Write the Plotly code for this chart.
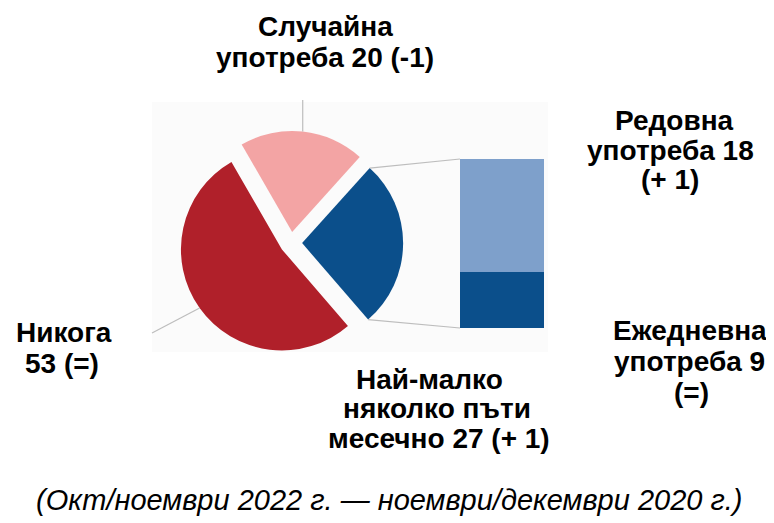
import math
import plotly.graph_objects as go

W, H = 774, 523          # browser window
OX, OY = 8, 8            # default page margin of the html body
FW, FH = W - OX, H - OY  # figure size

# ---------------- data ----------------
pie_labels = ["Случайна употреба", "Най-малко няколко пъти месечно", "Никога"]
pie_values = [20, 27, 53]
pie_colors = ["#F3A4A4", "#0B4F8B", "#B0202A"]

bar_labels = ["Ежедневна употреба", "Редовна употреба"]
bar_values = [9, 18]
bar_colors = ["#0B4F8B", "#7EA0CB"]

label_random = ["Случайна", "употреба 20 (-1)"]
label_regular = ["Редовна", "употреба 18", "(+ 1)"]
label_daily = ["Ежедневна", "употреба 9", "(=)"]
label_monthly = ["Най-малко", "няколко пъти", "месечно 27 (+ 1)"]
label_never = ["Никога", "53 (=)"]
footnote = "(Окт/ноември 2022 г. — ноември/декември 2020 г.)"

# ---------------- geometry (page pixels) ----------------
PIE_CX, PIE_CY, PIE_R = 291, 243, 101
PULL = 0.11
ROT = -30

BAR_X0, BAR_X1, BAR_Y0, BAR_Y1 = 460, 544, 159, 328

FONT = "Liberation Sans, Arial, Helvetica, sans-serif"


def px(x):
    return (x - OX) / FW


def py(y):
    return (H - y) / FH


half = PIE_R * (1 + PULL)
pie_dom_x = [px(PIE_CX - half), px(PIE_CX + half)]
pie_dom_y = [py(PIE_CY + half), py(PIE_CY - half)]
bar_dom_x = [px(BAR_X0), px(BAR_X1)]
bar_dom_y = [py(BAR_Y1), py(BAR_Y0)]


def slice_angles(i):
    tot = sum(pie_values)
    a0 = ROT + 360 * sum(pie_values[:i]) / tot
    a1 = a0 + 360 * pie_values[i] / tot
    return a0, a1


def apex(i):
    a0, a1 = slice_angles(i)
    m = math.radians((a0 + a1) / 2)
    return (PIE_CX + PULL * PIE_R * math.sin(m), PIE_CY - PULL * PIE_R * math.cos(m))


def arc_pt(i, ang):
    ax, ay = apex(i)
    a = math.radians(ang)
    return (ax + PIE_R * math.sin(a), ay - PIE_R * math.cos(a))


fig = go.Figure()

fig.add_trace(go.Pie(
    labels=pie_labels, values=pie_values, sort=False, direction="clockwise",
    rotation=ROT, pull=[PULL] * len(pie_values),
    marker=dict(colors=pie_colors, line=dict(width=0)),
    textinfo="none", hoverinfo="label+value", showlegend=False,
    domain=dict(x=pie_dom_x, y=pie_dom_y),
))

for lab, val, col in zip(bar_labels, bar_values, bar_colors):
    fig.add_trace(go.Bar(
        x=[0], y=[val], name=lab, width=1, marker=dict(color=col, line=dict(width=0)),
        showlegend=False, hoverinfo="name+y",
    ))

shapes = []
# faint plot-area background
shapes.append(dict(type="rect", xref="paper", yref="paper", x0=px(152), x1=px(548),
                   y0=py(352), y1=py(102), fillcolor="#FBFBFB", line=dict(width=0), layer="below"))

line_style = dict(color="#BDBDBD", width=1.2)

# connector lines from the split slice to the bar
blue = 1
b0, b1 = slice_angles(blue)
top_pt = arc_pt(blue, b0)
bot_pt = arc_pt(blue, b1)
shapes.append(dict(type="line", xref="paper", yref="paper", x0=px(top_pt[0]), y0=py(top_pt[1]),
                   x1=px(BAR_X0), y1=py(BAR_Y0), line=line_style))
shapes.append(dict(type="line", xref="paper", yref="paper", x0=px(bot_pt[0]), y0=py(bot_pt[1]),
                   x1=px(BAR_X0), y1=py(BAR_Y1), line=line_style))

# leader lines
p0, p1 = slice_angles(0)
pink_pt = arc_pt(0, (p0 + p1) / 2)
shapes.append(dict(type="line", xref="paper", yref="paper", x0=px(pink_pt[0]), y0=py(pink_pt[1]),
                   x1=px(pink_pt[0]), y1=py(100), line=line_style))
r0, r1 = slice_angles(2)
red_pt = arc_pt(2, (r0 + r1) / 2)
shapes.append(dict(type="line", xref="paper", yref="paper", x0=px(red_pt[0]), y0=py(red_pt[1]),
                   x1=px(152), y1=py(333), line=line_style))

annotations = []


def add_text(text, x, y, size=28, bold=True, italic=False):
    if bold:
        text = "<b>" + text + "</b>"
    if italic:
        text = "<i>" + text + "</i>"
    annotations.append(dict(text=text, x=px(x), y=py(y), xref="paper", yref="paper",
                            xanchor="center", yanchor="middle", showarrow=False,
                            align="center", font=dict(family=FONT, size=size, color="#000000")))


def add_block(lines, xs, ys):
    for t, x, y in zip(lines, xs, ys):
        add_text(t, x, y)


add_block(label_random, [325, 325], [26, 57.5])
add_block(label_regular, [674, 670, 670], [120.5, 150, 179.5])
add_block(label_daily, [690, 689, 691], [330, 361, 392])
add_block(label_monthly, [429, 437, 439], [379.5, 408.5, 438])
add_block(label_never, [64, 62], [333, 363])
add_text(footnote, 389, 500, size=29, bold=False, italic=True)

fig.update_layout(
    width=FW, height=FH, margin=dict(l=0, r=0, t=0, b=0, pad=0),
    paper_bgcolor="white", plot_bgcolor="rgba(0,0,0,0)",
    barmode="stack", bargap=0,
    xaxis=dict(domain=bar_dom_x, range=[-0.5, 0.5], visible=False, fixedrange=True),
    yaxis=dict(domain=bar_dom_y, range=[0, sum(bar_values)], visible=False, fixedrange=True),
    shapes=shapes, annotations=annotations, showlegend=False,
)

fig.write_html("out.html")
